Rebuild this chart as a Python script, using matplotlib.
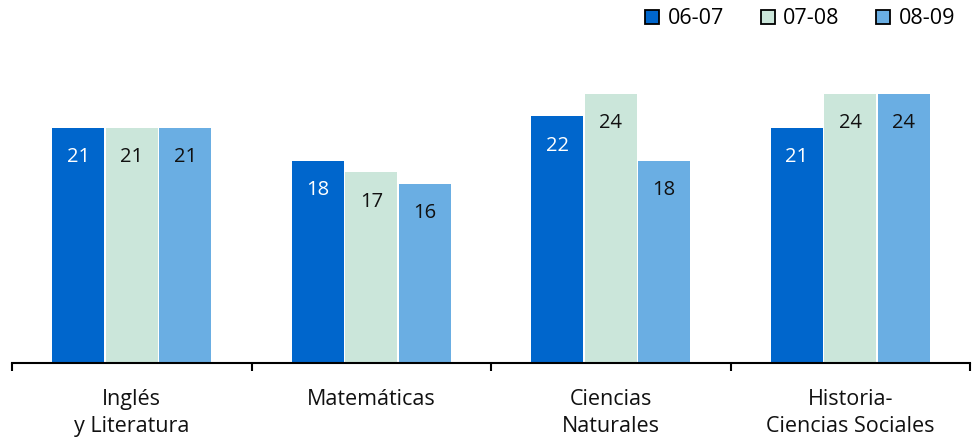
import matplotlib
matplotlib.use("Agg")
import matplotlib.pyplot as plt
from matplotlib.patches import Patch
import numpy as np

categories = ["Inglés\ny Literatura", "Matemáticas", "Ciencias\nNaturales", "Historia-\nCiencias Sociales"]
series_names = ["06-07", "07-08", "08-09"]
v0607 = [21, 18, 22, 21]
v0708 = [21, 17, 24, 24]
v0809 = [21, 16, 18, 24]
colors = ["#0066CC", "#CBE6DA", "#6AAEE3"]
text_colors = ["white", "#111111", "#111111"]

plt.rcParams['font.family'] = ['Open Sans', 'DejaVu Sans']

fig = plt.figure(figsize=(9.72, 4.41), dpi=100)
ax = fig.add_axes([12/972, 78/441, 958/972, 269/441])

x = np.arange(len(categories))
width = 0.217
offsets = [-0.223, 0.0, 0.223]
for vals, off, c, tc, name in zip([v0607, v0708, v0809], offsets, colors, text_colors, series_names):
    bars = ax.bar(x + off, vals, width, color=c, label=name)
    for b, v in zip(bars, vals):
        ax.annotate(f"{v}", (b.get_x() + b.get_width()/2, v), xytext=(0, -21),
                    textcoords="offset points", ha="center", va="center",
                    color=tc, fontsize=14.5)

ax.set_xlim(-0.5, 3.5)
ax.set_ylim(0, 24)
for s in ["top", "right", "left"]:
    ax.spines[s].set_visible(False)
ax.spines["bottom"].set_linewidth(1.5)
ax.set_yticks([])
ax.set_xticks(np.arange(-0.5, 4.0, 1.0))
ax.set_xticklabels([])
ax.tick_params(axis="x", which="major", length=6, width=1.5, direction="out", color="black")
ax.set_xticks(x, minor=True)
ax.set_xticklabels(categories, minor=True, fontsize=15.5, color="#111111", linespacing=1.4)
ax.tick_params(axis="x", which="minor", length=0, pad=18.5)

handles = [Patch(facecolor=c, edgecolor="black", linewidth=1.3, label=n) for c, n in zip(colors, series_names)]
fig.legend(handles=handles, loc="upper right", bbox_to_anchor=(1.003, 1.025), ncol=3, frameon=False,
           fontsize=15.5, handlelength=0.65, handleheight=0.65, handletextpad=0.4, columnspacing=1.7)

fig.savefig("out.png", dpi=100)
